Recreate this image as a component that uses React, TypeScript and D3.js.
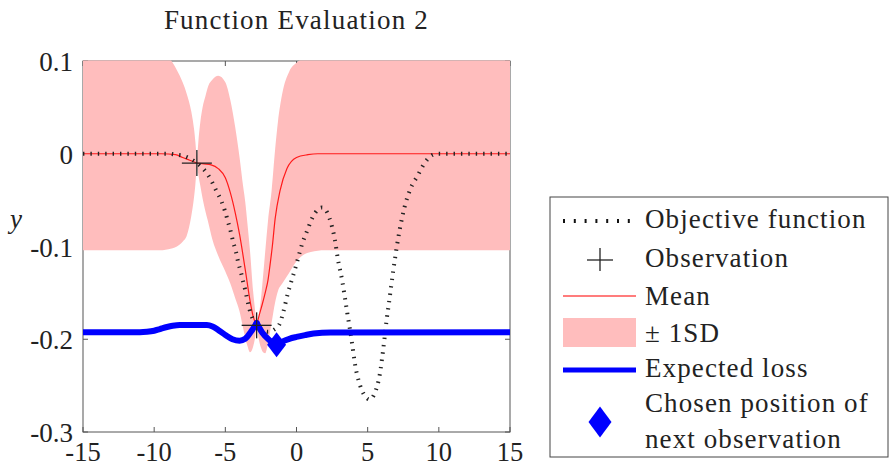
import React from 'react';
import * as d3 from 'd3';

// ---------- data ----------
const titleText = 'Function Evaluation 2';
const xTicks = [-15, -10, -5, 0, 5, 10, 15];
const xTickLabels = ['-15', '-10', '-5', '0', '5', '10', '15'];
const yTicks = [0.1, 0, -0.1, -0.2, -0.3];
const yTickLabels = ['0.1', '0', '-0.1', '-0.2', '-0.3'];

const objX = [-15, -9, -8.5, -8, -7.5, -7, -6.3, -5.95, -5.6, -5.25, -5.0, -4.8, -4.65, -4.45, -4.25, -4.1, -3.9, -3.75, -3.6, -3.45, -3.3, -3.1, -2.8, -2.4, -2.0, -1.6, -1.2, -0.95, -0.6, -0.25, 0.05, 0.4, 0.75, 1.15, 1.8, 2.5, 2.7, 2.9, 3.2, 3.55, 3.9, 4.1, 4.45, 4.8, 5.15, 5.5, 5.85, 6.1, 6.35, 6.45, 6.9, 7.05, 7.25, 7.6, 8.0, 8.5, 9.0, 9.6, 10, 15];
const objY = [0, 0, -0.001, -0.002, -0.005, -0.01, -0.021, -0.03, -0.041, -0.052, -0.063, -0.074, -0.082, -0.095, -0.106, -0.117, -0.128, -0.138, -0.147, -0.158, -0.168, -0.177, -0.185, -0.19, -0.192, -0.19, -0.184, -0.172, -0.15, -0.132, -0.116, -0.097, -0.083, -0.068, -0.058, -0.079, -0.093, -0.113, -0.136, -0.17, -0.204, -0.226, -0.249, -0.261, -0.265, -0.258, -0.238, -0.21, -0.177, -0.166, -0.115, -0.1, -0.082, -0.057, -0.038, -0.024, -0.01, -0.001, 0, 0];

const meanX = [-15, -9.5, -8.5, -8, -7.5, -7, -6.5, -6, -5.5, -5, -4.65, -4.3, -4, -3.6, -3.27, -3.05, -2.8, -2.6, -2.4, -2.2, -2, -1.86, -1.7, -1.5, -1.16, -0.67, 0, 0.8, 1.5, 15];
const meanY = [0, 0, -0.001, -0.004, -0.007, -0.01, -0.011, -0.012, -0.016, -0.026, -0.042, -0.064, -0.087, -0.125, -0.158, -0.175, -0.185, -0.173, -0.162, -0.15, -0.136, -0.12, -0.1, -0.07, -0.04, -0.016, -0.004, -0.001, 0, 0];

const bandX = [-15, -9.4, -9.0, -8.7, -8.4, -8.0, -7.7, -7.4, -7.2, -7.1, -7.0, -6.9, -6.75, -6.6, -6.4, -6.2, -5.9, -5.5, -5.0, -4.65, -4.3, -4.0, -3.75, -3.6, -3.45, -3.27, -3.05, -2.9, -2.8, -2.65, -2.5, -2.35, -2.2, -2.0, -1.75, -1.5, -1.3, -1.0, -0.5, 0, 0.5, 1.0, 2.0, 15];
const bandUpper = [0.104, 0.104, 0.104, 0.098, 0.09, 0.077, 0.064, 0.046, 0.027, 0.012, -0.01, 0.012, 0.035, 0.05, 0.062, 0.073, 0.08, 0.084, 0.077, 0.058, 0.028, -0.004, -0.035, -0.052, -0.075, -0.104, -0.148, -0.17, -0.185, -0.174, -0.157, -0.132, -0.106, -0.072, -0.04, 0.005, 0.035, 0.065, 0.089, 0.098, 0.103, 0.104, 0.104, 0.104];
const bandLower = [-0.104, -0.104, -0.103, -0.102, -0.1, -0.095, -0.088, -0.068, -0.047, -0.032, -0.01, -0.022, -0.035, -0.048, -0.062, -0.074, -0.093, -0.11, -0.127, -0.14, -0.156, -0.17, -0.188, -0.199, -0.207, -0.214, -0.208, -0.197, -0.185, -0.2, -0.209, -0.214, -0.215, -0.204, -0.182, -0.16, -0.148, -0.14, -0.128, -0.116, -0.109, -0.106, -0.104, -0.104];

const lossX = [-15, -11, -10.5, -10, -9.6, -9.1, -8.7, -8.2, -6.3, -5.9, -5.5, -5.0, -4.5, -4.0, -3.6, -3.2, -2.8, -2.4, -1.9, -1.4, -1.0, -0.5, 0, 0.6, 1.2, 2.4, 15];
const lossY = [-0.1925, -0.1925, -0.192, -0.1908, -0.189, -0.1868, -0.1855, -0.1847, -0.1847, -0.1862, -0.19, -0.1955, -0.2, -0.2016, -0.1995, -0.192, -0.1825, -0.193, -0.201, -0.206, -0.2025, -0.1995, -0.1975, -0.1955, -0.1938, -0.1926, -0.1925];

const obsX = [-7, -2.8];
const obsY = [-0.01, -0.185];
const chosenX = [-1.4];
const chosenY = [-0.206];

const legendLabels = ['Objective function', 'Observation', 'Mean', '\u00B1 1SD', 'Expected loss', 'Chosen position of', 'next observation'];

// ---------- layout ----------
const W = 890;
const H = 467;
const PL = 83, PR = 510, PT = 61, PB = 432;
const FONT = "'Liberation Serif', 'Times New Roman', serif";
const AX = '#555';
const PINK = '#ffbdbd';

const x = d3.scaleLinear().domain([-15, 15]).range([PL, PR]);
const y = d3.scaleLinear().domain([-0.3, 0.1]).range([PB, PT]);

type P = [number, number];
type B = { x: number; u: number; l: number };

function splitAt<T>(pts: T[], gx: (p: T) => number, knots: number[]): T[][] {
  const segs: T[][] = [];
  let cur: T[] = [];
  pts.forEach((p) => {
    cur.push(p);
    if (cur.length > 1 && knots.some((k) => Math.abs(k - gx(p)) < 1e-9)) {
      segs.push(cur);
      cur = [p];
    }
  });
  if (cur.length > 1) segs.push(cur);
  return segs;
}

const line = d3
  .line<P>()
  .x((d) => x(d[0]))
  .y((d) => y(d[1]))
  .curve(d3.curveMonotoneX);

const area = d3
  .area<B>()
  .x((d) => x(d.x))
  .y0((d) => y(d.l))
  .y1((d) => y(d.u))
  .curve(d3.curveMonotoneX);

export default function App() {
  const objPts: P[] = objX.map((v, i) => [v, objY[i]]);
  const meanPts: P[] = meanX.map((v, i) => [v, meanY[i]]);
  const lossPts: P[] = lossX.map((v, i) => [v, lossY[i]]);
  const bandPts: B[] = bandX.map((v, i) => ({ x: v, u: bandUpper[i], l: bandLower[i] }));

  const bandSegs = splitAt(bandPts, (d) => d.x, obsX);
  const meanSegs = splitAt(meanPts, (d) => d[0], obsX);
  const lossSegs = splitAt(lossPts, (d) => d[0], [...obsX, ...chosenX]);

  const tick = 5;

  const LX = 550, LY = 197, LW = 338, LH = 260;
  const symX0 = 563, symX1 = 636, symC = 600, textX = 645;
  const baselines = [228, 267, 305, 342, 377, 412, 448];

  const diamond = (cx: number, cy: number, hw: number, hh: number) =>
    `M${cx},${cy - hh}L${cx + hw},${cy}L${cx},${cy + hh}L${cx - hw},${cy}Z`;

  const txt = { fontFamily: FONT };

  return (
    <svg
      width={W}
      height={H}
      viewBox={`0 0 ${W} ${H}`}
      style={{ position: 'absolute', left: 0, top: 0, background: '#fff', fontFamily: FONT }}
    >
      <defs>
        <clipPath id="plotClip">
          <rect x={PL} y={PT - 0.5} width={PR - PL} height={PB - PT + 0.5} />
        </clipPath>
      </defs>
      <rect x={0} y={0} width={W} height={H} fill="#fff" />

      <text x={(PL + PR) / 2} y={29} textAnchor="middle" fontSize={27} letterSpacing={1.2} fill="#222" style={txt}>
        {titleText}
      </text>

      <g stroke={AX} strokeWidth={1} fill="none">
        <rect x={PL} y={PT} width={PR - PL} height={PB - PT} />
        {xTicks.map((t) => (
          <g key={'xt' + t}>
            <line x1={x(t)} x2={x(t)} y1={PB} y2={PB - tick} />
            <line x1={x(t)} x2={x(t)} y1={PT} y2={PT + tick} />
          </g>
        ))}
        {yTicks.map((t) => (
          <g key={'yt' + t}>
            <line x1={PL} x2={PL + tick} y1={y(t)} y2={y(t)} />
            <line x1={PR} x2={PR - tick} y1={y(t)} y2={y(t)} />
          </g>
        ))}
      </g>

      <g fontSize={27} fill="#222" style={txt}>
        {xTicks.map((t, i) => (
          <text key={'xl' + t} x={x(t)} y={461} textAnchor="middle" fontSize={26.5} style={txt}>
            {xTickLabels[i]}
          </text>
        ))}
        {yTicks.map((t, i) => (
          <text key={'yl' + t} x={73} y={y(t) + 10} textAnchor="end" style={txt}>
            {yTickLabels[i]}
          </text>
        ))}
      </g>
      <text x={16} y={228} textAnchor="middle" fontSize={27} fontStyle="italic" fill="#222" style={txt}>
        y
      </text>

      <g clipPath="url(#plotClip)">
        {bandSegs.map((s, i) => (
          <path key={'b' + i} d={area(s) || ''} fill={PINK} stroke="none" />
        ))}
        {meanSegs.map((s, i) => (
          <path key={'m' + i} d={line(s) || ''} fill="none" stroke="#ff1a1a" strokeWidth={1.2} />
        ))}
        <path
          d={line(objPts) || ''}
          fill="none"
          stroke="#222"
          strokeWidth={4}
          strokeDasharray="1.4 6"
        />
        {lossSegs.map((s, i) => (
          <path
            key={'l' + i}
            d={line(s) || ''}
            fill="none"
            stroke="#0000ff"
            strokeWidth={6}
            strokeLinejoin="round"
            strokeLinecap="round"
          />
        ))}
        {obsX.map((v, i) => (
          <g key={'o' + i} stroke="#222" strokeWidth={1.3}>
            <line x1={x(v) - 15} x2={x(v) + 15} y1={y(obsY[i])} y2={y(obsY[i])} />
            <line x1={x(v)} x2={x(v)} y1={y(obsY[i]) - 13} y2={y(obsY[i]) + 13} />
          </g>
        ))}
        {chosenX.map((v, i) => (
          <path key={'c' + i} d={diamond(x(v), y(chosenY[i]), 9.5, 12.5)} fill="#0000ff" />
        ))}
      </g>

      <rect x={LX} y={LY} width={LW} height={LH} fill="#fff" stroke="#444" strokeWidth={1} />
      <line x1={symX0} x2={symX1 - 6} y1={221} y2={221} stroke="#111" strokeWidth={4} strokeDasharray="2 8.8" />
      <g stroke="#222" strokeWidth={1.3}>
        <line x1={symC - 13} x2={symC + 13} y1={260} y2={260} />
        <line x1={symC} x2={symC} y1={248} y2={271} />
      </g>
      <line x1={symX0} x2={symX1} y1={296} y2={296} stroke="#ff5050" strokeWidth={1.4} />
      <rect x={symX0} y={318} width={symX1 - symX0} height={29} fill={PINK} />
      <line x1={symX0} x2={symX1} y1={370} y2={370} stroke="#0000ff" strokeWidth={5} />
      <path d={diamond(symC, 422, 11.5, 15.5)} fill="#0000ff" />
      <g fontSize={27} fill="#222" letterSpacing={1.1} style={txt}>
        {legendLabels.map((s, i) => (
          <text key={'lg' + i} x={textX} y={baselines[i]} style={txt}>
            {s}
          </text>
        ))}
      </g>
    </svg>
  );
}
